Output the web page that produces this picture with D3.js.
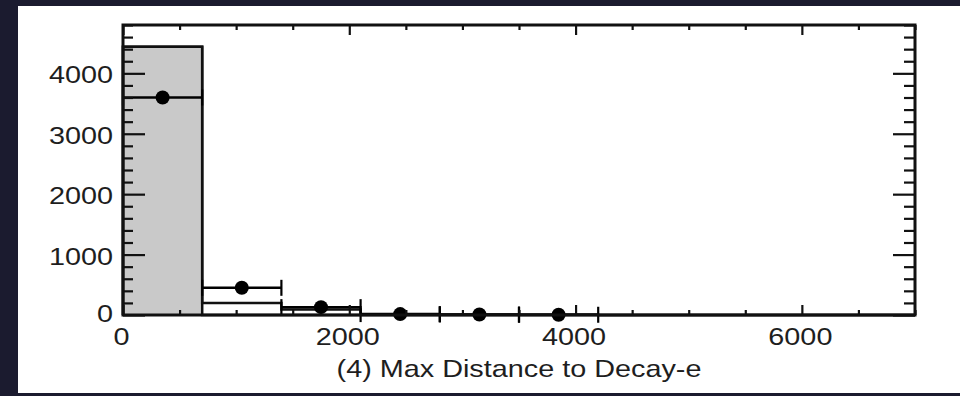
<!DOCTYPE html>
<html>
<head>
<meta charset="utf-8">
<script src="https://cdn.jsdelivr.net/npm/d3@7"></script>
<style>
  html, body { margin: 0; padding: 0; background: #1b1b2f; }
  svg { display: block; }
  text { font-family: "Liberation Sans", Arial, Helvetica, sans-serif; fill: #1e1e1e; }
</style>
</head>
<body>
<svg id="chart" width="960" height="396"></svg>
<script>
// ---- data ----
const binEdges = [0, 700, 1400, 2100, 2800, 3500, 4200, 4900, 5600, 6300, 7000];
const filledHist = [4440, 0, 0, 0, 0, 0, 0, 0, 0, 0];      // gray filled histogram
const openHist   = [4440, 200, 90, 12, 6, 3, 0, 0, 0, 0];   // open (line) histogram
const dataValues = [3600, 450, 130, 15, 8, 4];              // data points (first 6 bins)
const xTickValues = [0, 2000, 4000, 6000];
const xTickLabels = ["0", "2000", "4000", "6000"];
const yTickValues = [0, 1000, 2000, 3000, 4000];
const yTickLabels = ["0", "1000", "2000", "3000", "4000"];
const xTitle = "(4) Max Distance to Decay-e";

// ---- layout ----
const svg = d3.select("#chart");
const L = 123, R = 915, T = 25, B = 315;
const x = d3.scaleLinear().domain([0, 7000]).range([L, R]);
const y = d3.scaleLinear().domain([0, 4800]).range([B, T]);
const SX = 1.2; // horizontal stretch of the text in the reference

svg.append("rect").attr("width", 960).attr("height", 396).attr("fill", "#1b1b2f");
svg.append("rect").attr("x", 18).attr("y", 6).attr("width", 942).attr("height", 387).attr("fill", "#ffffff");

function stepPoints(vals) {
  const pts = vals.map((v, i) => [binEdges[i], v]);
  pts.push([binEdges[vals.length], vals[vals.length - 1]]);
  return pts;
}

const area = d3.area().curve(d3.curveStepAfter)
  .x(d => x(d[0])).y0(y(0)).y1(d => y(d[1]));
const line = d3.line().curve(d3.curveStepAfter)
  .x(d => x(d[0])).y(d => y(d[1]));

// gray filled histogram
const fp = stepPoints(filledHist);
svg.append("path").attr("d", area(fp)).attr("fill", "#c9c9c9").attr("stroke", "none");
svg.append("path").attr("d", line([[0, 0]].concat(fp).concat([[7000, 0]])))
  .attr("fill", "none").attr("stroke", "#111").attr("stroke-width", 2.5);

// open histogram
const op = stepPoints(openHist);
svg.append("path").attr("d", line([[0, 0]].concat(op).concat([[7000, 0]])))
  .attr("fill", "none").attr("stroke", "#111").attr("stroke-width", 2.5);

// data points with horizontal bars & end caps
const dg = svg.append("g");
dataValues.forEach((v, i) => {
  const x0 = x(binEdges[i]), x1 = x(binEdges[i + 1]), xc = (x0 + x1) / 2, yc = y(v);
  dg.append("line").attr("x1", x0).attr("x2", x1).attr("y1", yc).attr("y2", yc)
    .attr("stroke", "#000").attr("stroke-width", 2.5);
  [x0, x1].forEach(xe => {
    dg.append("line").attr("x1", xe).attr("x2", xe).attr("y1", yc - 8).attr("y2", yc + 8)
      .attr("stroke", "#000").attr("stroke-width", 2.2);
  });
  dg.append("circle").attr("cx", xc).attr("cy", yc).attr("r", 7).attr("fill", "#000");
});

// ---- axes ----
function styleAxis(g) {
  g.select(".domain").remove();
  g.selectAll(".tick line").attr("stroke", "#111").attr("stroke-width", 2.2);
}
const yMinor = d3.range(0, 4801, 200).filter(v => yTickValues.indexOf(v) < 0);
const xMinor = d3.range(0, 7001, 500).filter(v => xTickValues.indexOf(v) < 0);

// left
svg.append("g").attr("transform", `translate(${L},0)`)
  .call(d3.axisLeft(y).tickValues(yMinor).tickSize(-10).tickFormat("")).call(styleAxis);
const gl = svg.append("g").attr("transform", `translate(${L},0)`)
  .call(d3.axisLeft(y).tickValues(yTickValues).tickSize(-22).tickFormat((d, i) => yTickLabels[i]))
  .call(styleAxis);
gl.selectAll(".tick text")
  .attr("x", null).attr("dy", null)
  .attr("text-anchor", "end")
  .attr("transform", d => `translate(-10,${d === 0 ? 6.5 : 9.5}) scale(${SX},1)`)
  .style("font-size", "24px").attr("fill", "#1e1e1e");

// right
svg.append("g").attr("transform", `translate(${R},0)`)
  .call(d3.axisRight(y).tickValues(yMinor).tickSize(-11).tickFormat("")).call(styleAxis);
svg.append("g").attr("transform", `translate(${R},0)`)
  .call(d3.axisRight(y).tickValues(yTickValues).tickSize(-22).tickFormat("")).call(styleAxis);

// bottom
svg.append("g").attr("transform", `translate(0,${B})`)
  .call(d3.axisBottom(x).tickValues(xMinor).tickSize(-5).tickFormat("")).call(styleAxis);
const gb = svg.append("g").attr("transform", `translate(0,${B})`)
  .call(d3.axisBottom(x).tickValues(xTickValues).tickSize(-10).tickFormat((d, i) => xTickLabels[i]))
  .call(styleAxis);
gb.selectAll(".tick text")
  .attr("y", null).attr("dy", null)
  .attr("text-anchor", "middle")
  .attr("transform", `translate(-2,30) scale(${SX},1)`)
  .style("font-size", "24px").attr("fill", "#1e1e1e");

// top
svg.append("g").attr("transform", `translate(0,${T})`)
  .call(d3.axisTop(x).tickValues(xMinor).tickSize(-5).tickFormat("")).call(styleAxis);
svg.append("g").attr("transform", `translate(0,${T})`)
  .call(d3.axisTop(x).tickValues(xTickValues).tickSize(-10).tickFormat("")).call(styleAxis);

// frame
svg.append("rect").attr("x", L).attr("y", T).attr("width", R - L).attr("height", B - T)
  .attr("fill", "none").attr("stroke", "#111").attr("stroke-width", 3);

// x title
svg.append("text")
  .attr("transform", `translate(${(L + R) / 2},377) scale(${SX},1)`)
  .attr("text-anchor", "middle")
  .style("font-size", "24px")
  .text(xTitle);
</script>
</body>
</html>
